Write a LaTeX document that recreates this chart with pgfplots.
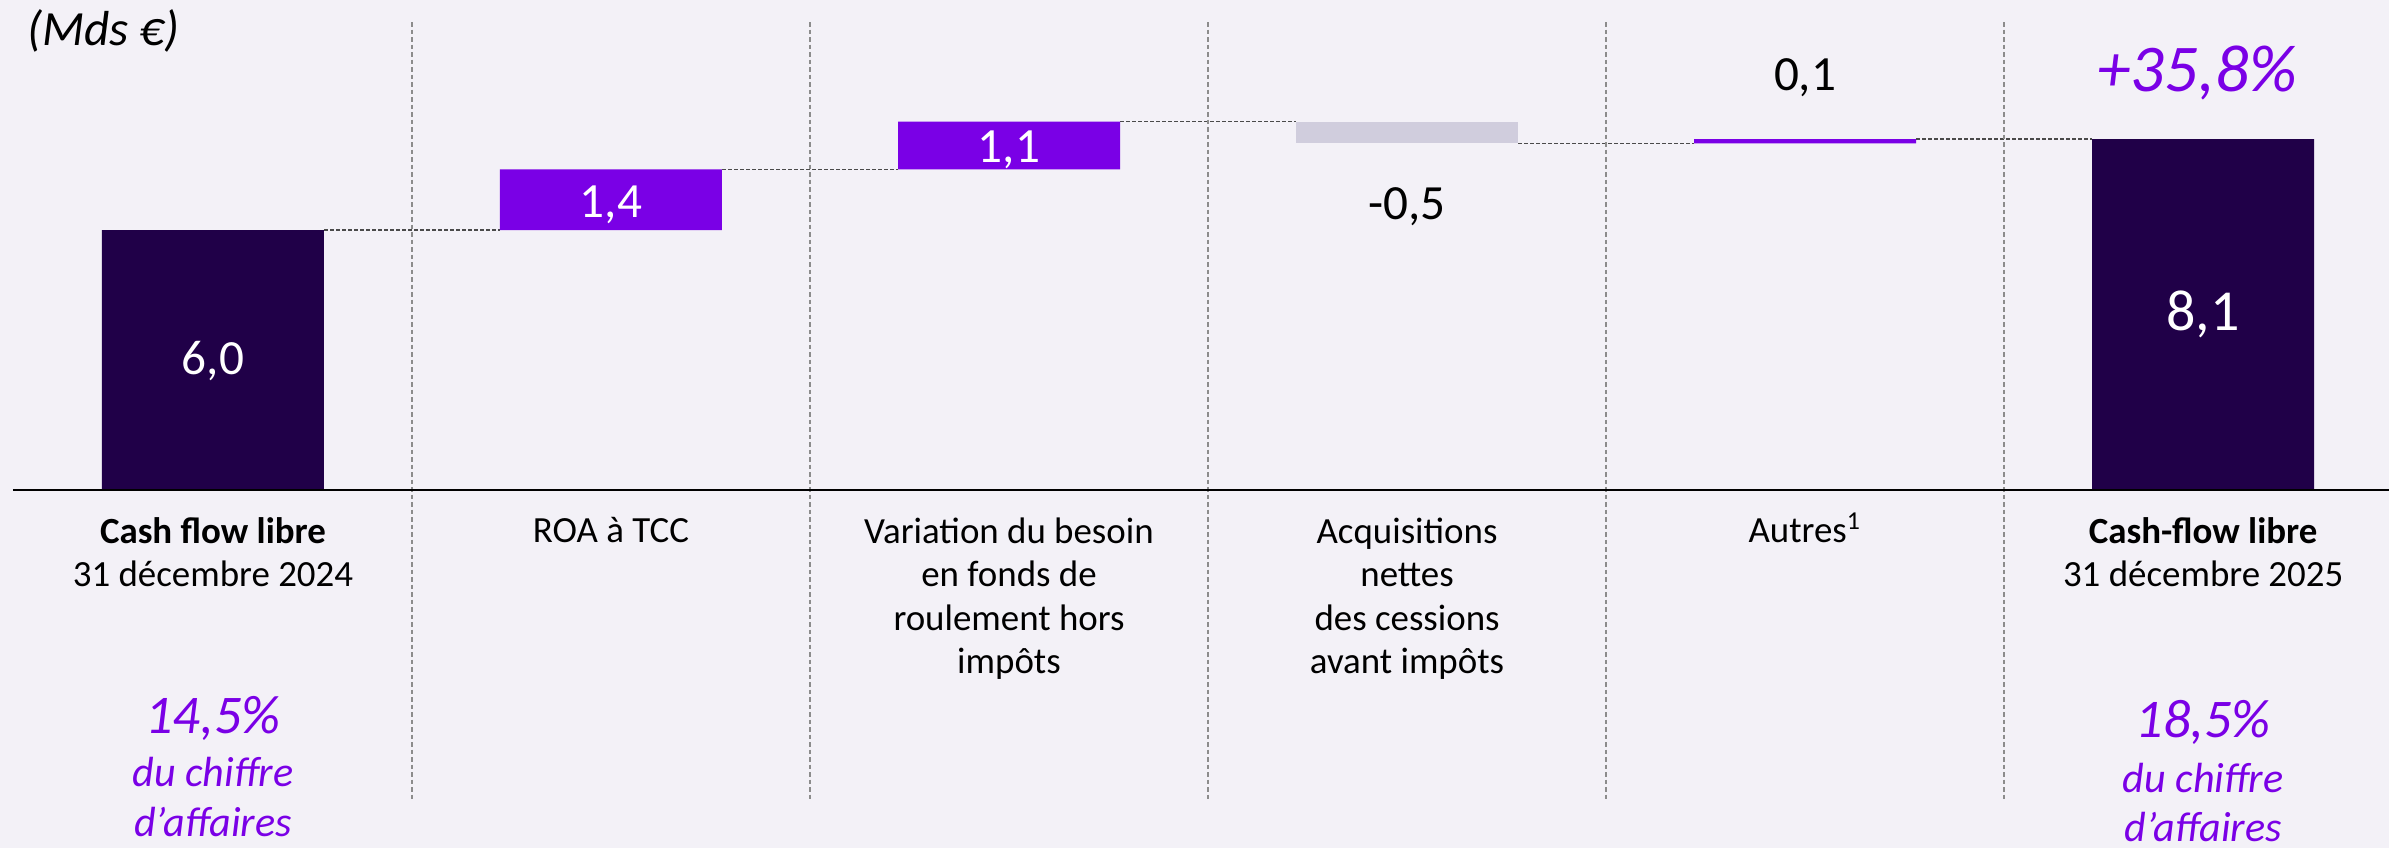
\documentclass[border=0pt]{standalone}
\usepackage{pgfplots}
\pgfplotsset{compat=1.18}
\usepackage{pgfplotstable}
\usepackage{fontspec}
\setmainfont{Carlito}

\definecolor{fond}{HTML}{F3F1F7}
\definecolor{nuit}{HTML}{200048}
\definecolor{mauve}{HTML}{7A00E6}
\definecolor{gris}{HTML}{D0CDDD}
\definecolor{trait}{HTML}{4A4A4A}
\definecolor{sep}{HTML}{8C8C8C}

\newcommand\cat{\fontsize{10.5}{12.4}\selectfont}
\newcommand\val{\fontsize{14}{16}\selectfont}

% waterfall: invisible base + visible part per colour
\pgfplotstableread{
x base nuit mauve gris
0 0   6.0  0   0
1 6.0 0    1.4 0
2 7.4 0    1.1 0
3 8.0 0    0   0.5
4 8.0 0    0.1 0
5 0   8.1  0   0
}\wf

\begin{document}
\begin{tikzpicture}
\fill[fond] (0,0) rectangle (238.9mm,84.8mm);
\begin{axis}[
  at={(0,0)}, anchor=south west,
  scale only axis,
  width=238.9mm, height=84.8mm,
  xmin=-0.535, xmax=5.467,
  ymin=-8.262, ymax=11.308,
  hide axis,
  clip=false,
  ybar stacked,
  bar width=22.2mm,
]
\addplot[fill=none, draw=none] table[x=x, y=base] {\wf};
\addplot[fill=nuit, draw=none] table[x=x, y=nuit] {\wf};
\addplot[fill=mauve, draw=none] table[x=x, y=mauve] {\wf};
\addplot[fill=gris, draw=none] table[x=x, y=gris] {\wf};

% separateurs
\foreach \s in {0.5,1.5,2.5,3.5,4.5}{
  \edef\tmp{\noexpand\draw[sep, line width=0.4pt, dash pattern=on 0.45mm off 0.3mm]
    (axis cs:\s,10.80) -- (axis cs:\s,-7.20);}
  \tmp
}
% liaisons
\draw[trait, line width=0.45pt, dash pattern=on 0.4mm off 0.2mm] (axis cs:0.279,6.0) -- (axis cs:0.721,6.0);
\draw[trait, line width=0.45pt, dash pattern=on 0.4mm off 0.2mm] (axis cs:1.279,7.4) -- (axis cs:1.721,7.4);
\draw[trait, line width=0.45pt, dash pattern=on 0.4mm off 0.2mm] (axis cs:2.279,8.5) -- (axis cs:2.721,8.5);
\draw[trait, line width=0.45pt, dash pattern=on 0.4mm off 0.2mm] (axis cs:3.279,8.0) -- (axis cs:3.721,8.0);
\draw[trait, line width=0.45pt, dash pattern=on 0.4mm off 0.2mm] (axis cs:4.279,8.1) -- (axis cs:4.721,8.1);

% points d'ancrage des textes
\coordinate (b0) at (axis cs:-0.5025,0);
\coordinate (b1) at (axis cs:5.467,0);
\coordinate (unit) at (axis cs:-0.4975,10.247);
\coordinate (v0) at (axis cs:0,2.654);
\coordinate (v1) at (axis cs:1,6.30);
\coordinate (v2) at (axis cs:2,7.56);
\coordinate (v3) at (axis cs:3,6.231);
\coordinate (v4) at (axis cs:4,9.23);
\coordinate (v5) at (axis cs:5,3.69);
\coordinate (pct) at (axis cs:4.985,9.185);
\coordinate (c0) at (axis cs:0,-2.229);
\coordinate (c1) at (axis cs:1,-1.223);
\coordinate (c2) at (axis cs:2,-4.241);
\coordinate (c3) at (axis cs:3,-4.241);
\coordinate (c4) at (axis cs:4,-1.223);
\coordinate (c5) at (axis cs:5,-2.229);
\coordinate (m0a) at (axis cs:0,-5.608);
\coordinate (m0b) at (axis cs:0,-6.854);
\coordinate (m0c) at (axis cs:0,-8.008);
\coordinate (m5a) at (axis cs:5,-5.723);
\coordinate (m5b) at (axis cs:5,-6.970);
\coordinate (m5c) at (axis cs:5,-8.123);
\end{axis}

% ligne de base
\draw[black, line width=0.6pt] (b0) -- (b1);

% unite
\node[anchor=base west, font=\fontsize{14}{16}\selectfont\itshape] at (unit) {(Mds €)};

% valeurs
\node[anchor=base, font=\val, text=white] at (v0) {6,0};
\node[anchor=base, font=\val, text=white] at (v1) {1,4};
\node[anchor=base, font=\val, text=white] at (v2) {1,1};
\node[anchor=base, font=\val] at (v3) {-0,5};
\node[anchor=base, font=\val] at (v4) {0,1};
\node[anchor=base, font=\fontsize{16.5}{18}\selectfont, text=white] at (v5) {8,1};
\node[anchor=base, font=\fontsize{19}{22}\selectfont\itshape, text=mauve] at (pct) {+35,8\%};

% categories (base = derniere ligne)
\node[anchor=base, align=center, font=\cat] at (c0) {\textbf{Cash flow libre}\\31 décembre 2024};
\node[anchor=base, align=center, font=\cat] at (c1) {ROA à TCC};
\node[anchor=base, align=center, font=\cat] at (c2) {Variation du besoin\\en fonds de\\roulement hors\\impôts};
\node[anchor=base, align=center, font=\cat] at (c3) {Acquisitions\\nettes\\des cessions\\avant impôts};
\node[anchor=base, align=center, font=\cat] at (c4) {Autres\textsuperscript{1}};
\node[anchor=base, align=center, font=\cat] at (c5) {\textbf{Cash-flow libre}\\31 décembre 2025};

% marges
\node[anchor=base, font=\fontsize{15.5}{18}\selectfont\itshape, text=mauve] at (m0a) {14,5\%};
\node[anchor=base, font=\fontsize{12}{14}\selectfont\itshape, text=mauve] at (m0b) {du chiffre};
\node[anchor=base, font=\fontsize{12}{14}\selectfont\itshape, text=mauve] at (m0c) {d’affaires};
\node[anchor=base, font=\fontsize{15.5}{18}\selectfont\itshape, text=mauve] at (m5a) {18,5\%};
\node[anchor=base, font=\fontsize{12}{14}\selectfont\itshape, text=mauve] at (m5b) {du chiffre};
\node[anchor=base, font=\fontsize{12}{14}\selectfont\itshape, text=mauve] at (m5c) {d’affaires};

\pgfresetboundingbox
\path[use as bounding box] (0,0) rectangle (238.9mm,84.8mm);
\end{tikzpicture}
\end{document}
